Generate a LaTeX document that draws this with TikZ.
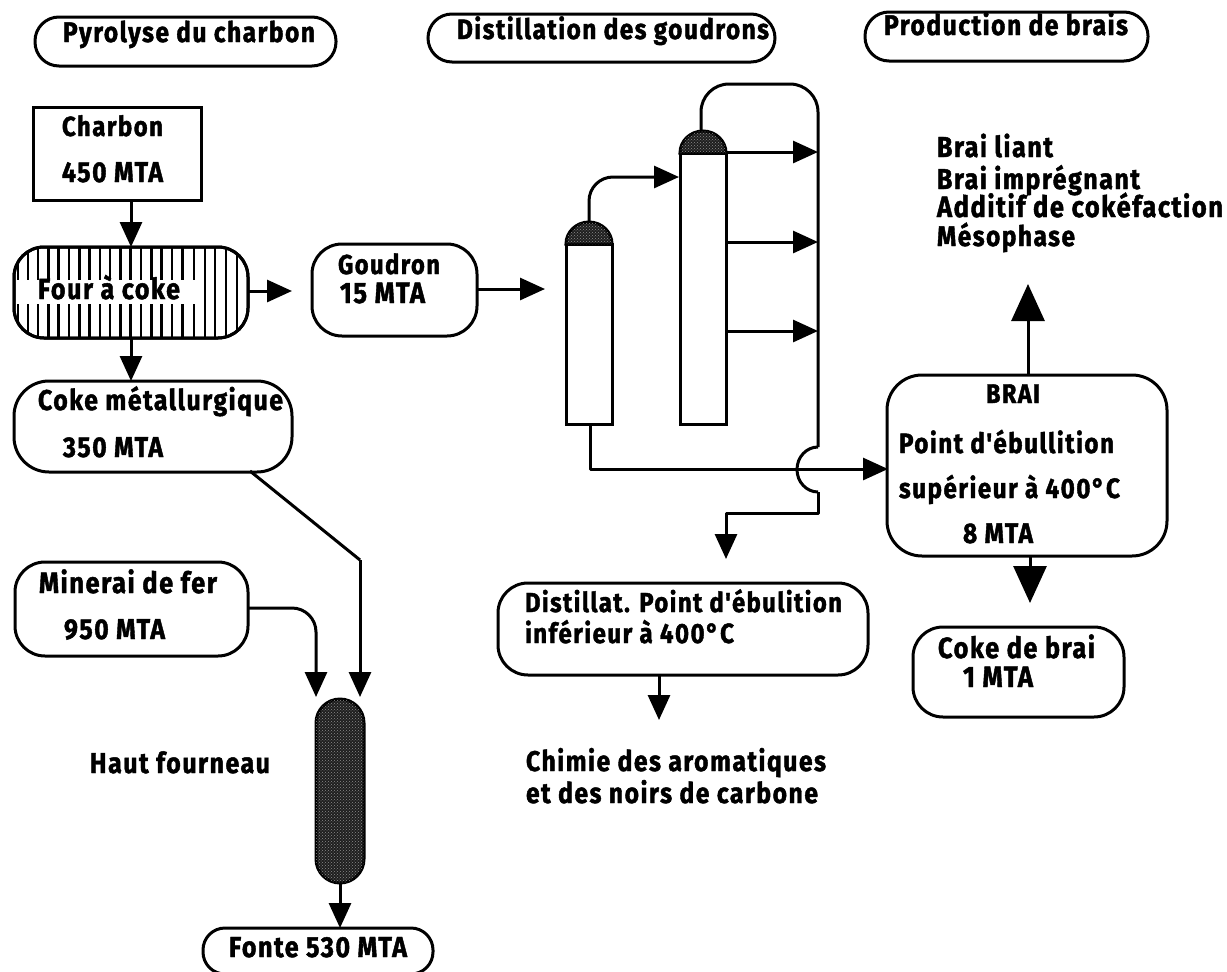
\documentclass[tikz,border=0pt]{standalone}
\usepackage{fontspec}
\usepackage{graphicx}
\usetikzlibrary{arrows.meta,patterns,calc}
\newfontfamily\labfont[LetterSpace=6,FakeBold=1.6]{Fira Sans}
\tikzset{
  lab/.style={anchor=base west,inner sep=0pt,outer sep=0pt,font=\labfont\bfseries\fontsize{22}{24}\selectfont},
  rbox/.style={draw,line width=3pt,rounded corners=#1,inner sep=0pt,outer sep=0pt,fill=white},
  rbox/.default=30pt,
  sbox/.style={draw,line width=3pt,inner sep=0pt,outer sep=0pt,fill=white},
  line/.style={line width=3pt,line join=round},
  arr/.style={line,-{Triangle[length=25pt,width=22pt]}},
  arrbig/.style={line,-{Triangle[length=37pt,width=33pt]}},
  darkfill/.style={fill=black!88,postaction={pattern=crosshatch dots,pattern color=white!55!black}},
}
\newcommand\lab[5]{\node[lab] (#1) at (#2,#3) {\scalebox{1}[1.15]{\resizebox{#4pt}{!}{#5}}};}
\begin{document}
\begin{tikzpicture}[x=1pt,y=-1pt]
\fill[white] (0,0) rectangle (1227,972);
\useasboundingbox (0,0) rectangle (1227,972);

% titles
\node[rbox=24pt,minimum width=301pt,minimum height=49pt] (t1) at (185.5,41.5) {};
\node[rbox=24pt,minimum width=347pt,minimum height=48pt] (t2) at (601.5,38) {};
\node[rbox=24pt,minimum width=283pt,minimum height=49pt] (t3) at (1006.5,36.5) {};
\lab{t1a}{63}{42}{252}{Pyrolyse du charbon}
\lab{t2a}{457}{39}{312}{Distillation des goudrons}
\lab{t3a}{884}{35}{244}{Production de brais}

% left column boxes
\node[sbox,minimum width=168pt,minimum height=93pt] (charbon) at (117,154) {};
\node[rbox=30pt,minimum width=234pt,minimum height=91pt] (four) at (131,292.5) {};
\begin{scope}
  \clip[rounded corners=30pt] (14,247) rectangle (248,338);
  \foreach \x in {18,28,38,48.3,58.6,68.9,79.2,89.5,99.8,110.1,120.4,130.7,141,151.3,161.6,171.9,182.2,194}{
    \draw[line width=2.6pt] (\x,247) -- (\x,280);
    \draw[line width=2.6pt] (\x,304) -- (\x,338);
  }
  \foreach \x in {205,215,226,237}{
    \draw[line width=2.6pt] (\x,247) -- (\x,338);
  }
\end{scope}
\draw[line width=3pt,rounded corners=30pt] (14,247) rectangle (248,338);
\node[rbox=35pt,minimum width=278pt,minimum height=91pt] (coke) at (153,426.5) {};
\node[rbox=30pt,minimum width=165pt,minimum height=92pt] (goudron) at (394.5,290) {};
\node[rbox=30pt,minimum width=233pt,minimum height=94pt] (minerai) at (131.5,609) {};
\node[rbox=22pt,minimum width=230pt,minimum height=46pt] (fonte) at (318,951) {};
\node[rbox=24pt,minimum width=48pt,minimum height=184pt,darkfill] (hf) at (340,791) {};

% right boxes
\node[rbox=35pt,minimum width=280pt,minimum height=181pt] (brai) at (1027,465.5) {};
\node[rbox=30pt,minimum width=211pt,minimum height=90pt] (cokebrai) at (1018.5,672) {};
\node[rbox=30pt,minimum width=370pt,minimum height=92pt] (dist) at (683,629) {};

% columns
\node[sbox,minimum width=46pt,minimum height=180pt] (colA) at (589,334) {};
\node[sbox,minimum width=46pt,minimum height=271pt] (colB) at (703,288.5) {};
\draw[line width=3pt,darkfill] (colA.north west) arc[start angle=180,end angle=360,x radius=23,y radius=22] -- cycle;
\draw[line width=3pt,darkfill] (colB.north west) arc[start angle=180,end angle=360,x radius=23,y radius=22] -- cycle;

% named free ends
\coordinate (domeA) at (589,222);
\coordinate (domeB) at (701,131);
\coordinate (inB) at (679,177);
\coordinate (corner) at (818,84);
\coordinate (jt) at (818,447);
\coordinate (jb) at (818,492);
\coordinate (jc) at (818,513);
\coordinate (r1) at (818,152);
\coordinate (r2) at (818,242);
\coordinate (r3) at (818,331);
\coordinate (distIn) at (726,559);
\coordinate (bottomA) at (590,424);
\coordinate (brIn) at (888,469);
\coordinate (fourR) at (248,291);
\coordinate (fourTip) at (292,291);
\coordinate (cokeIn) at (131,381);
\coordinate (goudR) at (477,289);
\coordinate (goudTip) at (545,289);
\coordinate (cokeOut) at (250,471);
\coordinate (cokeBend) at (360,560);
\coordinate (hfInB) at (360,697);
\coordinate (minOut) at (248,608);
\coordinate (hfInA) at (316,697);
\coordinate (hfOut) at (340,883);
\coordinate (fonteIn) at (340,928);
\coordinate (braiTop) at (1028,375);
\coordinate (braiTip) at (1028,284);
\coordinate (braiBot) at (1030,556);
\coordinate (braiBotTip) at (1030,603);
\coordinate (distOut) at (659,675);
\coordinate (distTip) at (659,720);

% connectors
\draw[arr] (charbon.south -| four.north) -- (four.north);
\draw[arr] (four.south) -- (cokeIn);
\draw[arr] (fourR) -- (fourTip);
\draw[arr] (goudR) -- (goudTip);
\draw[line] (cokeOut) -- (cokeBend);
\draw[arr] (cokeBend) -- (hfInB);
\draw[arr,rounded corners=24pt] (minOut) -| (hfInA);
\draw[arr] (hfOut) -- (fonteIn);
\draw[arr,rounded corners=24pt] (domeA) |- (inB);
\draw[line,rounded corners=28pt] (domeB) |- (corner) -- (jt);
\draw[arr] (colB.east |- r1) -- (r1);
\draw[arr] (colB.east |- r2) -- (r2);
\draw[arr] (colB.east |- r3) -- (r3);
\draw[line] (jt) arc[start angle=270,end angle=90,x radius=21,y radius=22.5];
\draw[arr] (jb) -- (jc) -| (distIn);
\draw[arr] (bottomA) |- (brIn);
\draw[arrbig] (braiTop) -- (braiTip);
\draw[arrbig] (braiBot) -- (braiBotTip);
\draw[arr] (distOut) -- (distTip);

% labels
\lab{l1}{62}{136}{101}{Charbon}
\lab{l2}{62}{182}{101}{450 MTA}
\lab{l3}{38}{299}{142}{Four à coke}
\lab{l4}{38}{410}{245}{Coke métallurgique}
\lab{l5}{63}{457}{100}{350 MTA}
\lab{l6}{338}{274}{102}{Goudron}
\lab{l7}{340}{303}{85}{15 MTA}
\lab{l8}{39}{593}{178}{Minerai de fer}
\lab{l9}{64}{639}{101}{950 MTA}
\lab{l10}{90}{773}{180}{Haut fourneau}
\lab{l11}{229}{957}{178}{Fonte 530 MTA}
\lab{l12}{525}{612}{317}{Distillat. Point d'ébulition}
\lab{l13}{525}{643}{209}{inférieur à 400°C}
\lab{l14}{526}{771}{300}{Chimie des aromatiques}
\lab{l15}{526}{803}{292}{et des noirs de carbone}
\lab{l16}{937}{157}{116}{Brai liant}
\lab{l17}{937}{189}{203}{Brai imprégnant}
\lab{l18}{937}{217}{286}{Additif de cokéfaction}
\lab{l19}{937}{246}{138}{Mésophase}
\lab{l20}{986}{403}{54}{BRAI}
\lab{l21}{899}{453}{215}{Point d'ébullition}
\lab{l22}{899}{498}{221}{supérieur à 400°C}
\lab{l23}{963}{543}{70}{8 MTA}
\lab{l24}{938}{658}{157}{Coke de brai}
\lab{l25}{963}{687}{70}{1 MTA}
\end{tikzpicture}
\end{document}
